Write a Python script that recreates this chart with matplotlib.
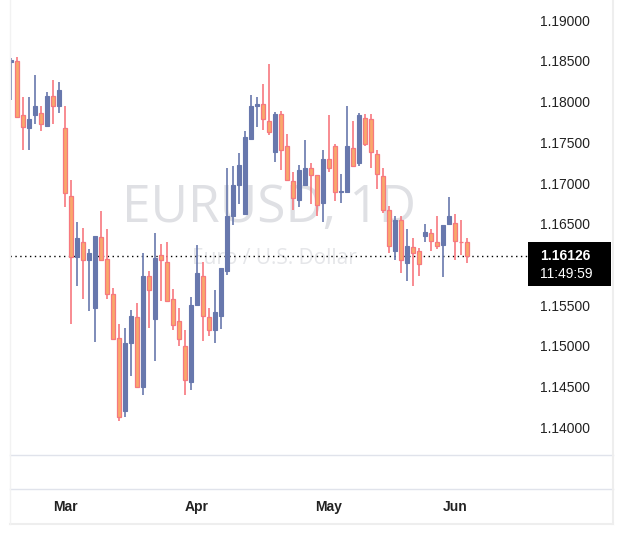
import matplotlib.pyplot as plt
from matplotlib.patches import Rectangle
from matplotlib.transforms import blended_transform_factory

# daily EURUSD candles
opens = [1.1851, 1.1852, 1.1785, 1.1770, 1.1785, 1.1788, 1.1772, 1.1809, 1.1797, 1.1769,
         1.1686, 1.1611, 1.1630, 1.1607, 1.1548, 1.1636, 1.1609, 1.1566, 1.1512, 1.1422,
         1.1505, 1.1538, 1.1451, 1.1588, 1.1535, 1.1613, 1.1605, 1.1559, 1.1532, 1.1502,
         1.1458, 1.1552, 1.1588, 1.1538, 1.1522, 1.1539, 1.1594, 1.1661, 1.1700, 1.1664,
         1.1756, 1.1796, 1.1799, 1.1778, 1.1740, 1.1787, 1.1748, 1.1705, 1.1681, 1.1699,
         1.1721, 1.1712, 1.1678, 1.1731, 1.1748, 1.1691, 1.1691, 1.1745, 1.1727, 1.1782,
         1.1781, 1.1737, 1.1710, 1.1669, 1.1618, 1.1656, 1.1604, 1.1624, 1.1619, 1.1637,
         1.1640, 1.1629, 1.1626, 1.1652, 1.1653, 1.1630, 1.1630]
highs = [1.1855, 1.1857, 1.1808, 1.1807, 1.1835, 1.1796, 1.1814, 1.1829, 1.1826, 1.1796,
         1.1706, 1.1654, 1.1647, 1.1621, 1.1637, 1.1667, 1.1645, 1.1573, 1.1529, 1.1524,
         1.1546, 1.1555, 1.1616, 1.1594, 1.1640, 1.1627, 1.1630, 1.1572, 1.1548, 1.1521,
         1.1562, 1.1626, 1.1605, 1.1549, 1.1571, 1.1597, 1.1721, 1.1723, 1.1739, 1.1766,
         1.1810, 1.1808, 1.1824, 1.1848, 1.1789, 1.1791, 1.1762, 1.1716, 1.1724, 1.1755,
         1.1727, 1.1712, 1.1742, 1.1785, 1.1750, 1.1713, 1.1797, 1.1778, 1.1788, 1.1787,
         1.1787, 1.1742, 1.1721, 1.1674, 1.1662, 1.1662, 1.1645, 1.1635, 1.1622, 1.1652,
         1.1645, 1.1661, 1.1650, 1.1685, 1.1664, 1.1656, 1.1634]
lows = [1.1804, 1.1783, 1.1743, 1.1743, 1.1774, 1.1766, 1.1772, 1.1774, 1.1788, 1.1672,
        1.1529, 1.1575, 1.1559, 1.1545, 1.1507, 1.1608, 1.1560, 1.1511, 1.1410, 1.1415,
        1.1465, 1.1451, 1.1442, 1.1524, 1.1484, 1.1557, 1.1556, 1.1521, 1.1502, 1.1442,
        1.1448, 1.1552, 1.1508, 1.1514, 1.1505, 1.1523, 1.1589, 1.1650, 1.1676, 1.1663,
        1.1755, 1.1771, 1.1767, 1.1761, 1.1728, 1.1718, 1.1704, 1.1669, 1.1673, 1.1699,
        1.1676, 1.1662, 1.1654, 1.1715, 1.1680, 1.1678, 1.1691, 1.1723, 1.1723, 1.1748,
        1.1721, 1.1695, 1.1665, 1.1616, 1.1608, 1.1592, 1.1582, 1.1576, 1.1588, 1.1629,
        1.1618, 1.1621, 1.1586, 1.1652, 1.1607, 1.1613, 1.1604]
closes = [1.1853, 1.1783, 1.1771, 1.1781, 1.1796, 1.1774, 1.1809, 1.1797, 1.1816, 1.1690,
          1.1611, 1.1635, 1.1608, 1.1616, 1.1637, 1.1608, 1.1566, 1.1511, 1.1415, 1.1505,
          1.1539, 1.1451, 1.1588, 1.1571, 1.1610, 1.1607, 1.1557, 1.1528, 1.1511, 1.1460,
          1.1552, 1.1591, 1.1539, 1.1522, 1.1543, 1.1597, 1.1662, 1.1699, 1.1724, 1.1759,
          1.1796, 1.1799, 1.1781, 1.1764, 1.1787, 1.1743, 1.1706, 1.1683, 1.1718, 1.1721,
          1.1712, 1.1675, 1.1731, 1.1721, 1.1691, 1.1692, 1.1748, 1.1723, 1.1785, 1.1750,
          1.1740, 1.1713, 1.1669, 1.1625, 1.1656, 1.1607, 1.1625, 1.1616, 1.1602, 1.1642,
          1.1631, 1.1625, 1.1650, 1.1662, 1.1631, 1.1629, 1.16126]

month_labels = ['Mar', 'Apr', 'May', 'Jun']
month_index = [9, 31, 53, 74]
price_ticks = [1.14, 1.145, 1.15, 1.155, 1.16, 1.165, 1.17, 1.175, 1.18, 1.185, 1.19]
last_price = 1.16126
last_time = '11:49:59'

UP = '#6878ad'
DOWN_FILL = '#f9a86b'
DOWN_EDGE = '#f7787f'

fig = plt.figure(figsize=(6.23, 5.34), dpi=100)
W, H = 623, 534
ax = fig.add_axes([10 / W, (H - 455) / H, 518 / W, 452 / H])
ax.set_xlim(-0.2, 86.2)
ax.set_ylim(1.1368, 1.1923)
ax.axis('off')

# watermark
ax.text(0.5, 0.545, 'EURUSD, 1D', transform=ax.transAxes, ha='center', va='center',
        fontsize=37, color='#dfe0e4', family='Open Sans', zorder=0)
ax.text(0.51, 0.435, 'Euro / U.S. Dollar', transform=ax.transAxes, ha='center',
        va='center', fontsize=15, color='#e5e6e9', family='Open Sans', zorder=0)

w = 0.6
for i, (o, h, l, c) in enumerate(zip(opens, highs, lows, closes)):
    if c >= o:
        ax.vlines(i, l, h, color=UP, lw=1.2, zorder=2)
        ax.add_patch(Rectangle((i - w / 2, o), w, max(c - o, 0.00004),
                               facecolor=UP, edgecolor=UP, lw=0.8, zorder=3))
    else:
        ax.vlines(i, l, h, color=DOWN_EDGE, lw=1.2, zorder=2)
        ax.add_patch(Rectangle((i - w / 2, c), w, max(o - c, 0.00004),
                               facecolor=DOWN_FILL, edgecolor=DOWN_EDGE, lw=0.9, zorder=3))

ax.axhline(last_price, color='black', ls=(0, (1, 2.5)), lw=1, zorder=1)

# price scale on the right
tr = blended_transform_factory(ax.transAxes, ax.transData)
for p in price_ticks:
    ax.text(1.0 + 12 / 518, p, '%.5f' % p, transform=tr, ha='left', va='center',
            fontsize=10, color='#222222', family='Liberation Sans', clip_on=False)
ax.add_patch(Rectangle((1.0, last_price - 0.0037), 83 / 518, 0.0054, transform=tr,
                       facecolor='black', edgecolor='none', clip_on=False, zorder=5))
ax.text(1.0 + 12 / 518, last_price, '%.5f' % last_price, transform=tr,
        ha='left', va='center', fontsize=10, color='white', weight='bold',
        family='Liberation Sans', clip_on=False, zorder=6)
ax.text(1.0 + 12 / 518, last_price - 0.0022, last_time, transform=tr,
        ha='left', va='center', fontsize=10, color='white',
        family='Liberation Sans', clip_on=False, zorder=6)

# month labels along the time axis
trx = blended_transform_factory(ax.transData, fig.transFigure)
for lab, idx in zip(month_labels, month_index):
    ax.text(idx, (H - 507) / H, lab, transform=trx, ha='center', va='center',
            fontsize=10, weight='bold', color='#222222', family='Liberation Sans',
            clip_on=False)

# frame lines
line_col = '#e0e3eb'
for yy in (455, 489):
    fig.add_artist(plt.Line2D([10 / W, 613 / W], [(H - yy) / H] * 2, color=line_col, lw=1))
fig.add_artist(plt.Line2D([10 / W, 613 / W], [(H - 524) / H] * 2, color='#eeeeee', lw=1.5))
fig.add_artist(plt.Line2D([613 / W] * 2, [(H - 524) / H, 1], color='#eeeeee', lw=1.5))
fig.add_artist(plt.Line2D([10 / W] * 2, [(H - 524) / H, 1], color='#f2f2f2', lw=1))

fig.savefig('out.png', dpi=100)
